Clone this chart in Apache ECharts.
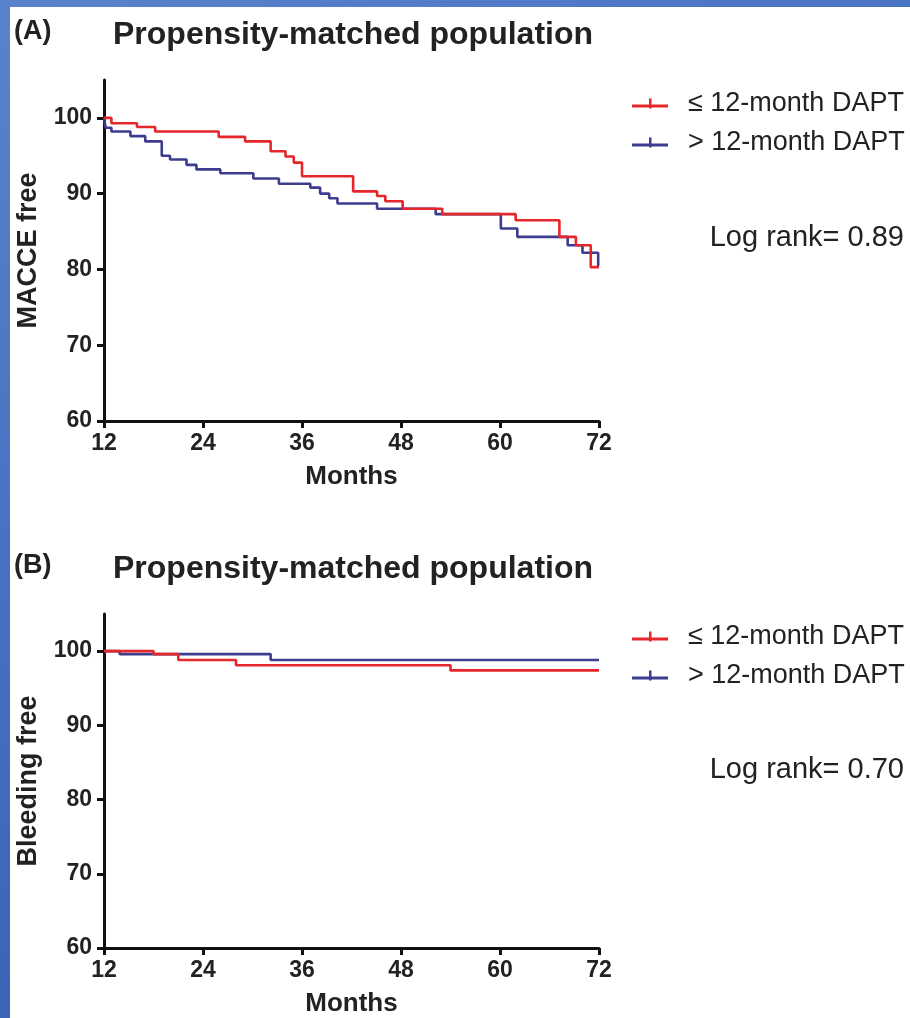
<!DOCTYPE html>
<html>
<head>
<meta charset="utf-8">
<script src="https://cdn.jsdelivr.net/npm/echarts@6.0.0/dist/echarts.min.js"></script>
<style>
  html, body { margin: 0; padding: 0; background: #fff; }
  #main { width: 910px; height: 1018px; }
</style>
</head>
<body>
<div id="main"></div>
<script>
// (A) MACCE free, propensity-matched
var macceShortMonths = [12, 12.9, 16, 18.2, 25.9, 29.1, 32.2, 34, 35, 36, 42.2, 45.1, 46.1, 48.2, 53, 61.9, 67.2, 69.2, 71, 72];
var macceShortFree = [100, 99.3, 98.8, 98.2, 97.5, 96.9, 95.6, 94.9, 94.1, 92.3, 90.3, 89.7, 89.0, 88.0, 87.3, 86.5, 84.3, 83.2, 80.3, 80.3];
var macceLongMonths = [12, 12.2, 12.9, 15.2, 17, 19, 20, 22, 23.2, 26.1, 30.1, 33.2, 37, 38.2, 39.3, 40.3, 45.1, 52.2, 60.1, 62.1, 68.2, 70, 71.9, 72];
var macceLongFree = [100, 98.7, 98.2, 97.6, 96.9, 95.0, 94.5, 93.8, 93.2, 92.7, 92.0, 91.3, 90.8, 90.0, 89.4, 88.7, 88.0, 87.3, 85.4, 84.3, 83.2, 82.2, 80.5, 80.5];

// (B) Bleeding free, propensity-matched
var bleedShortMonths = [12, 18, 21, 28, 54, 72];
var bleedShortFree = [100, 99.6, 98.8, 98.1, 97.4, 97.4];
var bleedLongMonths = [12, 13.9, 32.2, 72];
var bleedLongFree = [100, 99.6, 98.8, 98.8];

var groupNames = ['\u2264 12-month DAPT', '> 12-month DAPT'];
var logRanks = ['Log rank= 0.89', 'Log rank= 0.70'];
var freeTicks = [60, 70, 80, 90, 100];

var RED = '#e5262a';
var BLUE = '#3c3d8e';
var FONT = '"Liberation Sans", Arial, sans-serif';

function zip(xs, ys) {
  return xs.map(function (x, i) { return [x, ys[i]]; });
}

var chart = echarts.init(document.getElementById('main'));

function xAxisFor(idx) {
  return {
    type: 'value', gridIndex: idx, min: 12, max: 72, interval: 12,
    name: 'Months', nameLocation: 'middle', nameGap: 43,
    nameTextStyle: { fontFamily: FONT, fontWeight: 'bold', fontSize: 26, color: '#222' },
    axisLine: { lineStyle: { color: '#111', width: 3 } },
    axisTick: { show: true, length: 7, lineStyle: { color: '#111', width: 3 } },
    axisLabel: { fontFamily: FONT, fontWeight: 'bold', fontSize: 23, color: '#222', margin: 11 },
    splitLine: { show: false }
  };
}

function yAxisFor(idx, name) {
  return {
    type: 'value', gridIndex: idx, min: 60, max: 105, interval: 10,
    name: name, nameLocation: 'middle', nameGap: 62,
    nameTextStyle: { fontFamily: FONT, fontWeight: 'bold', fontSize: 27, color: '#222' },
    axisLine: { show: true, lineStyle: { color: '#111', width: 3 } },
    axisTick: { show: true, length: 7, customValues: freeTicks, lineStyle: { color: '#111', width: 3 } },
    axisLabel: { fontFamily: FONT, fontWeight: 'bold', fontSize: 23, color: '#222', margin: 12, customValues: freeTicks },
    splitLine: { show: false }
  };
}

function kmSeries(name, color, axisIdx, data) {
  return {
    name: name, type: 'line', step: 'end',
    xAxisIndex: axisIdx, yAxisIndex: axisIdx,
    showSymbol: false, symbol: 'none',
    itemStyle: { color: color },
    lineStyle: { color: color, width: 2.6 },
    data: data
  };
}

function legendFor(top) {
  return {
    data: groupNames, orient: 'vertical', left: 627, top: top,
    itemWidth: 36, itemHeight: 10, itemGap: 12,
    icon: 'path://M0,6h36v3h-36z M17,0h2.5v10h-2.5z',
    textStyle: { fontFamily: FONT, fontSize: 27, color: '#222', lineHeight: 26, padding: [0, 0, 0, 15] },
    selectedMode: false
  };
}

function panelText(y, letter) {
  return [
    { type: 'text', left: 14, top: y - 12,
      style: { text: letter, font: 'bold 27px ' + FONT, fill: '#222' } },
    { type: 'text', left: 113, top: y - 11,
      style: { text: 'Propensity-matched population', font: 'bold 32px ' + FONT, fill: '#222' } }
  ];
}

var option = {
  backgroundColor: '#fff',
  animation: false,
  grid: [
    { left: 104, right: 311, top: 80, bottom: 597 },
    { left: 104, right: 311, top: 614, bottom: 64 }
  ],
  xAxis: [xAxisFor(0), xAxisFor(1)],
  yAxis: [yAxisFor(0, 'MACCE free'), yAxisFor(1, 'Bleeding free')],
  legend: [legendFor(85), legendFor(618)],
  graphic: [
    { type: 'rect', left: 0, top: 0, z: -1, shape: { width: 10, height: 1018 },
      style: { fill: new echarts.graphic.LinearGradient(0, 0, 0, 1, [
        { offset: 0, color: '#5a82cc' }, { offset: 1, color: '#3d63b6' }]) } },
    { type: 'rect', left: 0, top: 0, z: -1, shape: { width: 910, height: 7 },
      style: { fill: new echarts.graphic.LinearGradient(0, 0, 1, 0, [
        { offset: 0, color: '#5a82cc' }, { offset: 1, color: '#4a74c4' }]) } },
    { type: 'text', right: 6, top: 223,
      style: { text: logRanks[0], font: '29px ' + FONT, fill: '#222' } },
    { type: 'text', right: 6, top: 755,
      style: { text: logRanks[1], font: '29px ' + FONT, fill: '#222' } }
  ].concat(panelText(30, '(A)'), panelText(564, '(B)')),
  series: [
    kmSeries(groupNames[1], BLUE, 0, zip(macceLongMonths, macceLongFree)),
    kmSeries(groupNames[0], RED, 0, zip(macceShortMonths, macceShortFree)),
    kmSeries(groupNames[1], BLUE, 1, zip(bleedLongMonths, bleedLongFree)),
    kmSeries(groupNames[0], RED, 1, zip(bleedShortMonths, bleedShortFree))
  ]
};

chart.setOption(option);
window.addEventListener('resize', function () {
  chart.resize();
});
</script>
</body>
</html>
